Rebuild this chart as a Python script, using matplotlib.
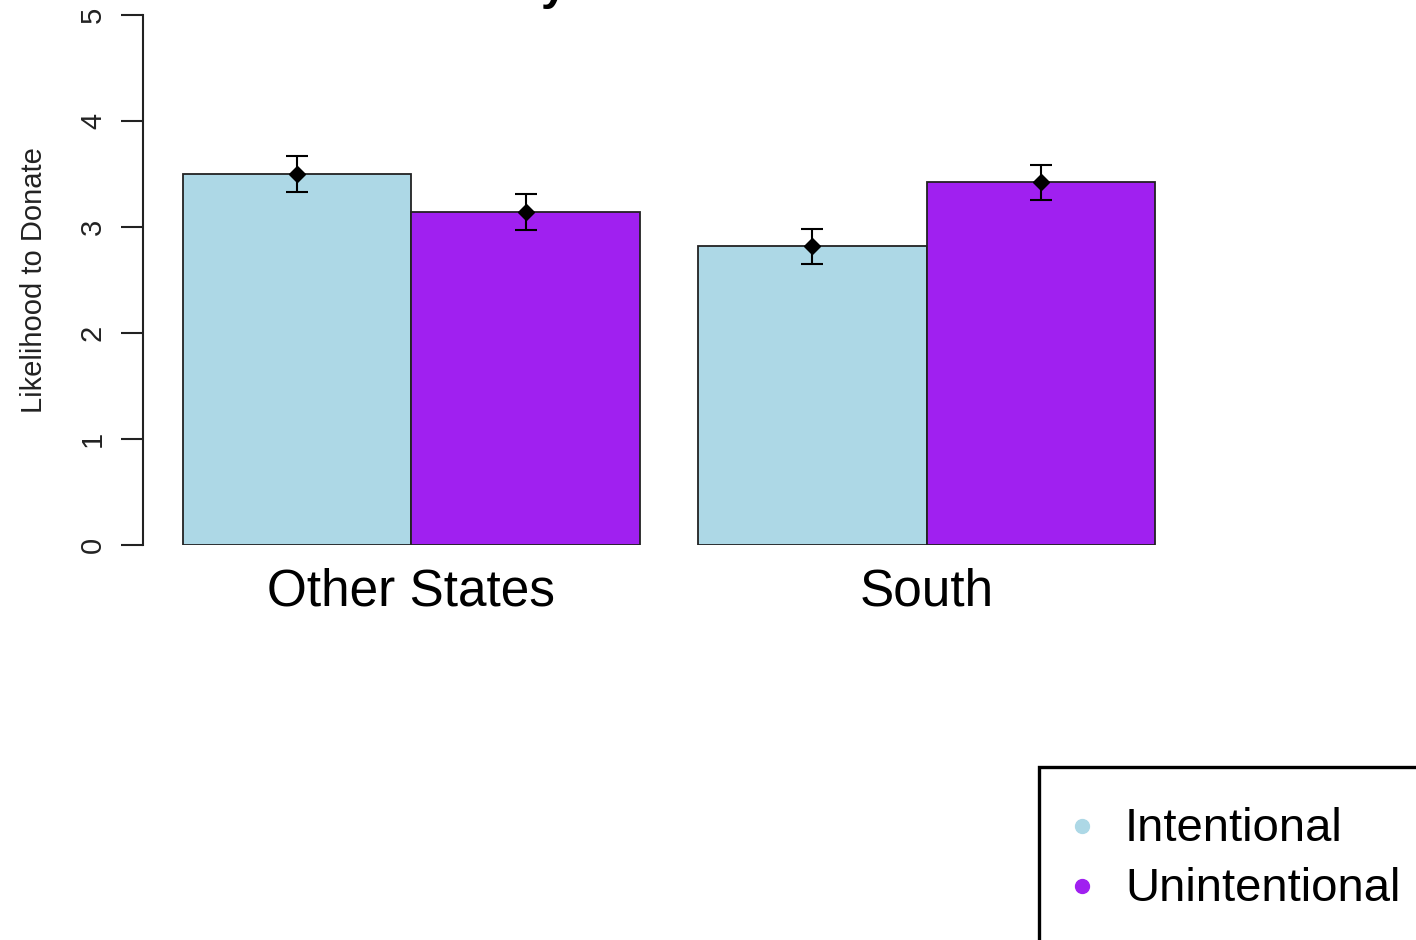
import matplotlib.pyplot as plt
from matplotlib.patches import Rectangle

plt.rcParams['font.family'] = ['Liberation Sans', 'DejaVu Sans']

# Mean likelihood to donate with standard-error bars
groups = ["Other States", "South"]
conditions = ["Intentional", "Unintentional"]
means = {
    "Intentional": [3.50, 2.82],
    "Unintentional": [3.14, 3.42],
}
errors = {
    "Intentional": [0.17, 0.165],
    "Unintentional": [0.17, 0.165],
}
colors = {"Intentional": "#ADD8E6", "Unintentional": "#A020F0"}

W, H = 1416, 940
fig = plt.figure(figsize=(W / 100, H / 100), dpi=100)

# plot region in pixels: left axis at x=143, y=0 at 545, y=5 at 15
ax_left, ax_right = 143, 1190
ax_bottom, ax_top = 545, 15
ax = fig.add_axes([ax_left / W, (H - ax_bottom) / H,
                   (ax_right - ax_left) / W, (ax_bottom - ax_top) / H])

bar_w = 1.0
offset = 0.175
group_gap = 0.254
px_per_unit = 228.5
ax.set_xlim(0, (ax_right - ax_left) / px_per_unit)
ax.set_ylim(0, 5)

group_centers = []
for g, grp in enumerate(groups):
    start = offset + g * (len(conditions) * bar_w + group_gap)
    for c, cond in enumerate(conditions):
        x = start + c * bar_w + bar_w / 2
        ax.bar(x, means[cond][g], width=bar_w, color=colors[cond],
               edgecolor="#222222", linewidth=1.3, zorder=2)
        ax.errorbar(x, means[cond][g], yerr=errors[cond][g], fmt="D",
                    color="black", markersize=8, capsize=8, elinewidth=1.5,
                    capthick=1.5, zorder=3)
    group_centers.append(start + len(conditions) * bar_w / 2)

ax.set_xticks(group_centers)
ax.set_xticklabels(groups, fontsize=37)
ax.tick_params(axis="x", length=0, pad=16)

ax.set_yticks(range(6))
ax.set_yticklabels([str(i) for i in range(6)], rotation=90, va="center",
                   fontsize=21, color="#222222")
ax.tick_params(axis="y", length=16, width=1.5, pad=10, color="#222222")
ax.set_ylabel("Likelihood to Donate", fontsize=21, labelpad=22, color="#222222")

for side in ["top", "right", "bottom"]:
    ax.spines[side].set_visible(False)
ax.spines["left"].set_linewidth(1.5)
ax.spines["left"].set_color("#222222")

# title sits almost entirely above the top edge
fig.text(670 / W, 1 + 1 / H, "Study of Attributions", ha="center",
         va="baseline", fontsize=34, fontweight="bold")

# legend box in the lower right corner
leg_x, leg_y = 1039, 767
fig.patches.append(Rectangle((leg_x / W, -0.05), 1.0, (H - leg_y) / H + 0.05,
                             transform=fig.transFigure, fill=False,
                             edgecolor="black", linewidth=2.4))
for i, cond in enumerate(conditions):
    y = 1 - (826 + 60 * i) / H
    fig.lines.append(plt.Line2D([1082 / W], [y], marker="o", markersize=10,
                                color=colors[cond], linestyle="none",
                                transform=fig.transFigure))
    fig.text(1125 / W, y - 3 / H, cond, ha="left", va="center", fontsize=34)

fig.savefig("out.png", dpi=100)
